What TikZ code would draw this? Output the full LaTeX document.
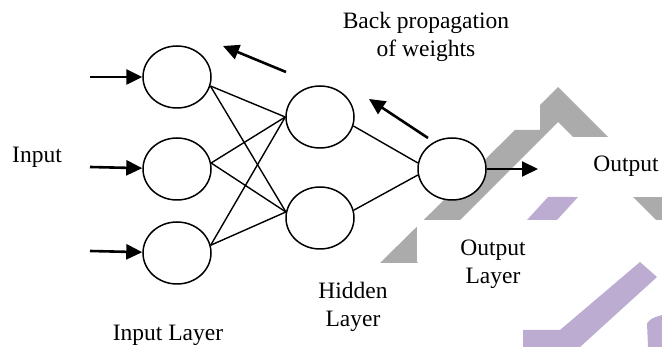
\documentclass[tikz,border=0pt]{standalone}
\usepackage{fontspec}
\setmainfont{Liberation Serif}
\usetikzlibrary{shapes.geometric,arrows.meta}
\definecolor{wmgray}{RGB}{171,171,171}
\definecolor{wmpurple}{RGB}{188,172,209}

\begin{document}
\begin{tikzpicture}[x=1pt, y=-1pt,
	neuron/.style={draw, ellipse, fill=white, line width=1.5pt, minimum width=68pt, minimum height=62pt, inner sep=0pt},
	lbl/.style={font=\fontsize{23.5}{28}\selectfont, align=center, inner sep=0pt},
	wire/.style={line width=1.4pt},
	flow/.style={line width=2.6pt, -{Triangle[length=16pt, width=15pt]}}]
	\useasboundingbox (0,0) rectangle (662,347);
	% watermark behind the net
	\fill[wmgray] (380,263) -- (515,130) -- (540,130) -- (540,105) -- (558,87) -- (720,249) -- (685,249) -- (558,122) -- (417,263) -- cycle;
	\fill[wmpurple] (527,220) -- (548,197) -- (578,197) -- (557,220) -- cycle;
	\fill[wmpurple] (523,330) -- (560,330) -- (640,262) -- (657,277) -- (580,347) -- (523,347) -- cycle;
	\fill[wmpurple] (647,323) .. controls (652,318) .. (662,315) -- (662,347) -- (648,347) -- cycle;
	\fill[white] (573,137) rectangle (662,197);
	\fill[white] (417,220) rectangle (662,262);

	% neurons
	\node[neuron] (i1) at (177,77) {};
	\node[neuron] (i2) at (177,169) {};
	\node[neuron] (i3) at (177,253) {};
	\node[neuron] (h1) at (320,117) {};
	\node[neuron] (h2) at (320,218) {};
	\node[neuron] (o1) at (452,169) {};

	% weights
	\draw[wire] (i1.-15) -- (h1.west);
	\draw[wire] (i1.-15) -- (h2.170);
	\draw[wire] (i2.10) -- (h1.west);
	\draw[wire] (i2.10) -- (h2.170);
	\draw[wire] (i3.13) -- (h1.west);
	\draw[wire] (i3.13) -- (h2.170);
	\draw[wire] (h1.-15) -- (o1.170);
	\draw[wire] (h2.13) -- (o1.190);

	% inputs, output and back propagation
	\coordinate (a1) at (90,77);
	\coordinate (a2) at (90,167);
	\coordinate (a3) at (90,251);
	\coordinate (out) at (538,169);
	\coordinate (b1s) at (286,72);
	\coordinate (b1e) at (223,46);
	\coordinate (b2s) at (428,138);
	\coordinate (b2e) at (369,99);
	\draw[flow] (a1) -- (i1);
	\draw[flow] (a2) -- (i2);
	\draw[flow] (a3) -- (i3);
	\draw[flow, line width=2pt] (o1) -- (out);
	\draw[flow] (b1s) -- (b1e);
	\draw[flow] (b2s) -- (b2e);

	% labels
	\node[lbl, anchor=base] (inlbl) at (37,163) {Input};
	\node[lbl, anchor=base] (outlbl) at (626,172) {Output};
	\node[lbl] (bplbl) at (426,37) {Back propagation\\of weights};
	\node[lbl] (hidlbl) at (353,307) {Hidden\\Layer};
	\node[lbl] (outlay) at (493,264) {Output\\Layer};
	\node[lbl, anchor=base] (inlay) at (168,341) {Input Layer};
\end{tikzpicture}
\end{document}
